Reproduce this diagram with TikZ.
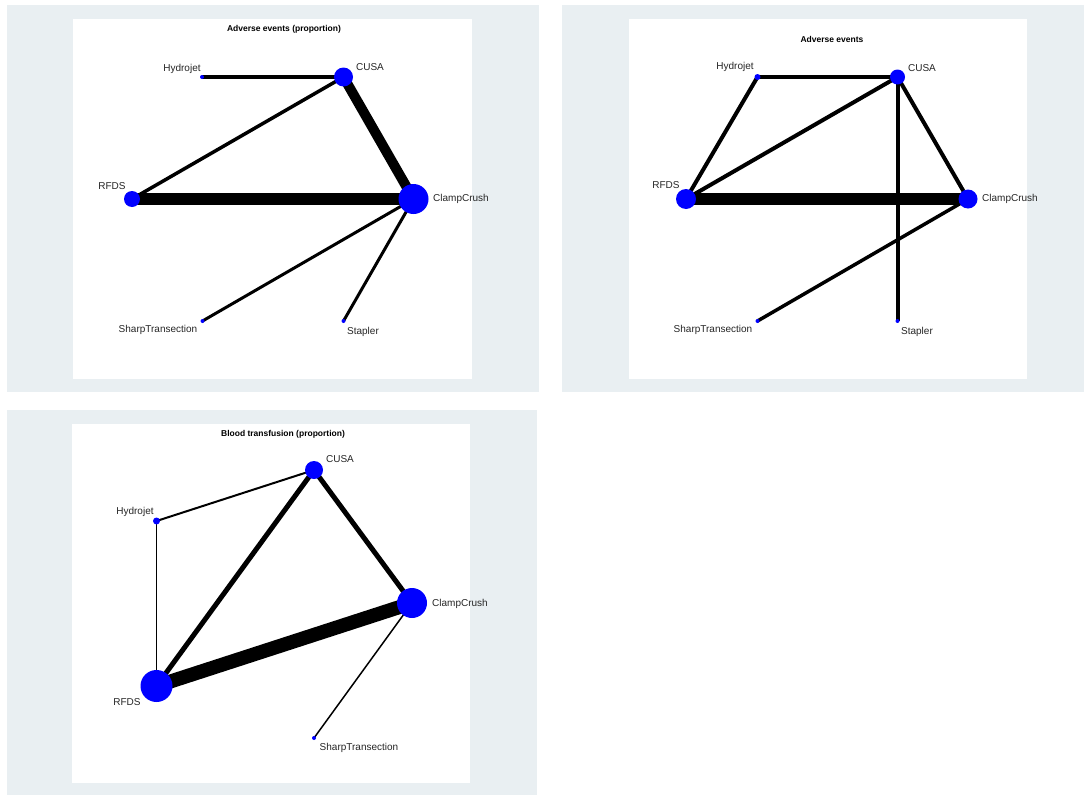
\documentclass[tikz,border=0pt]{standalone}
\usepackage{fontspec}
\setmainfont{Liberation Sans}
\pgfdeclarelayer{panel}
\pgfdeclarelayer{edges}
\pgfsetlayers{panel,edges,main}
\definecolor{panelgray}{RGB}{233,239,242}
\definecolor{nodeblue}{RGB}{0,0,255}
\tikzset{
  panelbox/.style={fill=panelgray, draw=none},
  plotbox/.style={fill=white, draw=none},
  vtx/.style={circle, fill=nodeblue, draw=none, inner sep=0pt, minimum size=#1},
  lbl/.style={font=\fontsize{10}{12}\selectfont, inner sep=0pt, text=black!85},
  ttl/.style={font=\bfseries\fontsize{8.5}{10}\selectfont, inner sep=0pt},
  edge/.style={draw=black, line width=#1}
}
\begin{document}
\begin{tikzpicture}[x=1pt,y=-1pt]
\useasboundingbox (0,0) rectangle (1084,795);
\begin{pgfonlayer}{panel}
\fill[white] (0,0) rectangle (1084,795);
\path[panelbox] (7,5) rectangle (539,392);
\path[plotbox] (73,19) rectangle (472,379);
\path[panelbox] (562,5) rectangle (1084,392);
\path[plotbox] (629,19) rectangle (1027,379);
\path[panelbox] (7,410) rectangle (537,795);
\path[plotbox] (72,424) rectangle (470,783);
\end{pgfonlayer}

% ---------- Panel 1 ----------
\node[ttl] (t1) at (284,29) {Adverse events (proportion)};
\node[vtx=4pt]  (a-hyd)   at (202,77) {};
\node[vtx=19pt] (a-cusa)  at (343.5,77) {};
\node[vtx=16pt] (a-rfds)  at (132,199) {};
\node[vtx=30pt] (a-clamp) at (413.5,199) {};
\node[vtx=4pt]  (a-sharp) at (202.5,321) {};
\node[vtx=4pt]  (a-stap)  at (343.5,321) {};
\node[lbl] (la-hyd)   at (182,69)  {Hydrojet};
\node[lbl] (la-cusa)  at (370,67)  {CUSA};
\node[lbl] (la-rfds)  at (112,186) {RFDS};
\node[lbl] (la-clamp) at (461,199) {ClampCrush};
\node[lbl] (la-sharp) at (158,330) {SharpTransection};
\node[lbl] (la-stap)  at (363,332) {Stapler};
\begin{pgfonlayer}{edges}
\draw[edge=3.5pt] (a-hyd.center) -- (a-cusa.center);
\draw[edge=3.5pt] (a-cusa.center) -- (a-rfds.center);
\draw[edge=10pt] (a-cusa.center) -- (a-clamp.center);
\draw[edge=12pt] (a-rfds.center) -- (a-clamp.center);
\draw[edge=3pt] (a-clamp.center) -- (a-sharp.center);
\draw[edge=3pt] (a-clamp.center) -- (a-stap.center);
\end{pgfonlayer}

% ---------- Panel 2 ----------
\node[ttl] (t2) at (832,39) {Adverse events};
\node[vtx=6pt]  (b-hyd)   at (757.5,77) {};
\node[vtx=15pt] (b-cusa)  at (897.5,77) {};
\node[vtx=20pt] (b-rfds)  at (686,199) {};
\node[vtx=19pt] (b-clamp) at (968,199) {};
\node[vtx=4pt]  (b-sharp) at (757.5,321) {};
\node[vtx=4pt]  (b-stap)  at (897.5,321) {};
\node[lbl] (lb-hyd)   at (735,67)  {Hydrojet};
\node[lbl] (lb-cusa)  at (922,68)  {CUSA};
\node[lbl] (lb-rfds)  at (666,185) {RFDS};
\node[lbl] (lb-clamp) at (1010,199) {ClampCrush};
\node[lbl] (lb-sharp) at (713,330) {SharpTransection};
\node[lbl] (lb-stap)  at (917,332) {Stapler};
\begin{pgfonlayer}{edges}
\draw[edge=4pt] (b-hyd.center) -- (b-cusa.center);
\draw[edge=4pt] (b-hyd.center) -- (b-rfds.center);
\draw[edge=4pt] (b-cusa.center) -- (b-rfds.center);
\draw[edge=4pt] (b-cusa.center) -- (b-clamp.center);
\draw[edge=4pt] (b-cusa.center) -- (b-stap.center);
\draw[edge=12pt] (b-rfds.center) -- (b-clamp.center);
\draw[edge=3.5pt] (b-clamp.center) -- (b-sharp.center);
\end{pgfonlayer}

% ---------- Panel 3 ----------
\node[ttl] (t3) at (283,434) {Blood transfusion (proportion)};
\node[vtx=18pt] (c-cusa)  at (314,470) {};
\node[vtx=7pt]  (c-hyd)   at (156.5,521) {};
\node[vtx=30pt] (c-clamp) at (412,603) {};
\node[vtx=32pt] (c-rfds)  at (156.5,686) {};
\node[vtx=4pt]  (c-sharp) at (314,738) {};
\node[lbl] (lc-cusa)  at (340,459) {CUSA};
\node[lbl] (lc-hyd)   at (135,512) {Hydrojet};
\node[lbl] (lc-clamp) at (460,604) {ClampCrush};
\node[lbl] (lc-rfds)  at (127,702) {RFDS};
\node[lbl] (lc-sharp) at (359,748) {SharpTransection};
\begin{pgfonlayer}{edges}
\draw[edge=2pt] (c-cusa.center) -- (c-hyd.center);
\draw[edge=1.5pt] (c-hyd.center) -- (c-rfds.center);
\draw[edge=5pt] (c-cusa.center) -- (c-rfds.center);
\draw[edge=5pt] (c-cusa.center) -- (c-clamp.center);
\draw[edge=14pt] (c-rfds.center) -- (c-clamp.center);
\draw[edge=1.5pt] (c-clamp.center) -- (c-sharp.center);
\end{pgfonlayer}
\end{tikzpicture}
\end{document}
